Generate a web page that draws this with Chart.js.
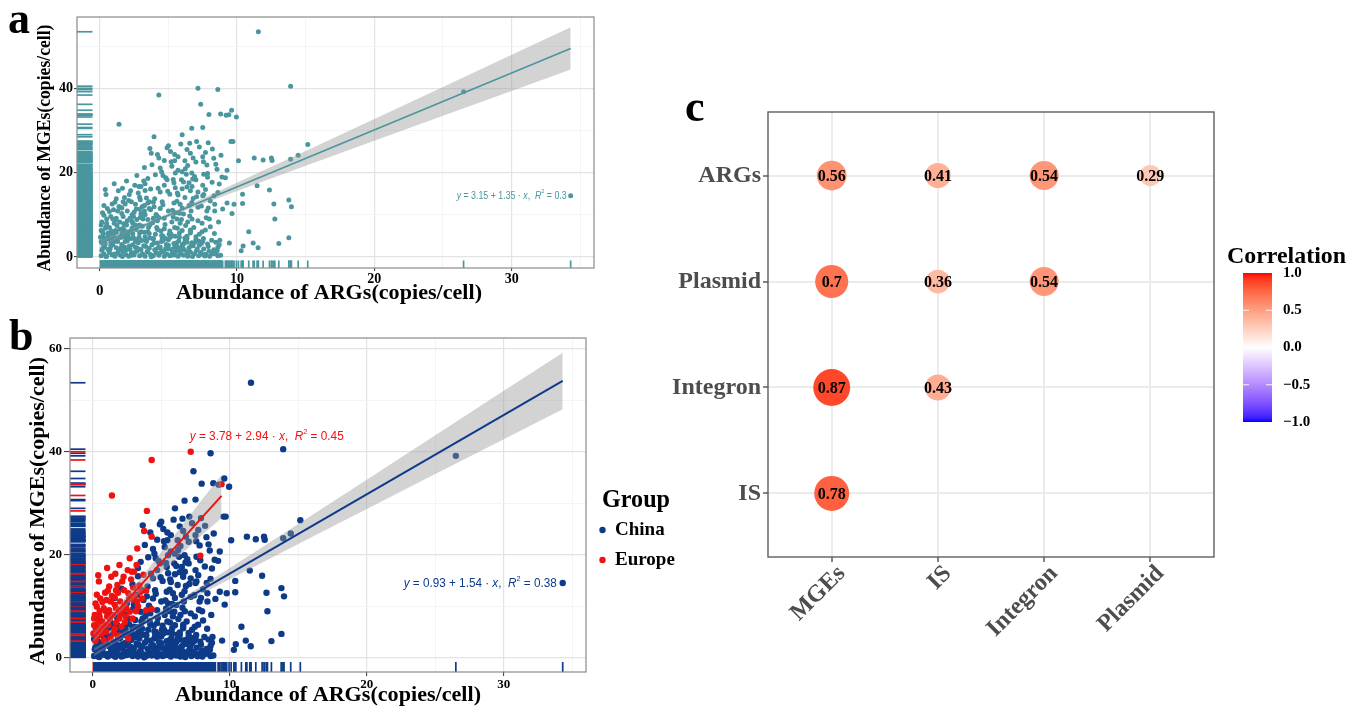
<!DOCTYPE html>
<html><head><meta charset="utf-8">
<script src="https://cdn.jsdelivr.net/npm/chart.js@4.4.1/dist/chart.umd.min.js"></script>
<style>
body{margin:0;background:#fff;width:1361px;height:709px;position:relative;overflow:hidden}
canvas{position:absolute}
</style></head><body>
<canvas id="ca" width="640" height="310" style="left:0;top:0"></canvas>
<canvas id="cb" width="700" height="399" style="left:0;top:310px"></canvas>
<canvas id="cc" width="721" height="649" style="left:640px;top:60px"></canvas>
<script>
// ---------------- DATA ----------------
// [ARGs abundance, MGEs abundance] (copies/cell)
const chinaPoints = [
[11.55,53.4],[26.5,39.2],[13.9,40.5],[8.6,39.7],[34.3,14.5],[15.15,26.7],[14.45,24.1],[13.9,23.2],[7.35,36.2],[7.5,30.7],[6.7,30.5],[6.0,29.0],[7.95,33.8],[8.8,33.9],[9.6,34.8],[9.95,33.2],[9.2,33.6],[9.55,27.4],[9.7,27.4],[7.05,27.4],[6.35,25.5],[5.45,24.3],[8.83,24.1],[10.1,22.8],[11.25,23.5],[11.9,23.0],[12.5,23.5],[12.55,22.9],[4.9,25.9],[3.65,25.7],[4.05,19.5],[5.2,22.6],[5.45,22.8],[5.25,21.5],[4.8,18.8],[5.5,19.9],
[13.77,13.5],[13.96,11.9],[12.68,12.6],[12.36,15.9],[11.46,16.9],[10.4,14.9],[10.4,12.7],[9.78,12.5],[9.27,12.8],[9.63,10.3],[10.85,6.0],[12.75,9.0],[13.77,4.6],[13.04,3.2],[11.53,2.2],[11.17,3.3],[10.44,2.6],[10.3,1.5],[9.44,3.3],[8.74,4.0],[7.69,6.4],[7.25,5.4],[7.2,3.8],[8.9,19.0],[9.15,18.8],[9.27,20.6],[8.54,20.8],[7.57,19.6],[8.18,17.7],[6.77,18.5],[6.72,16.7],[7.57,14.8],[8.32,14.5],[8.37,12.5],[7.8,10.9],[8.37,10.9],[7.45,8.0],[6.72,9.0],[7.98,9.0],[6.6,6.4],[5.62,9.0],[6.35,3.5],[5.74,2.2],[6.35,1.2],[7.57,1.9],[7.69,0.6],[8.42,0.9],[5.5,16.4],[5.62,13.2],[6.23,20.9],
[4.7,22.9],[5.7,23.8],[6.2,22.8],[6.8,23.5],[7.5,23.8],[7.0,22.5],[7.7,24.8],[7.8,21.8],[4.5,20.2],[6.0,20.2],[6.3,19.6],[6.7,19.9],[4.9,18.3],[5.4,17.6],[5.95,18.3],[6.5,17.6],[7.0,18.3],[7.5,17.0],[4.7,17.0],[6.0,16.2],[6.6,15.7],[7.15,15.4],[4.4,15.4],[5.1,14.9],[5.7,14.7],[6.2,14.1],[6.8,13.9],[7.5,14.5],[4.0,13.8],[4.55,13.1],[5.4,12.8],[5.85,12.5],[6.5,12.2],[7.15,11.8],[3.25,12.2],[3.7,11.2],[4.4,11.5],[5.0,10.9],[5.5,10.5],[6.1,10.2],[6.65,10.9],[3.0,9.6],[3.5,8.9],[4.2,8.6],[4.7,9.2],[5.25,8.3],[5.85,8.0],[6.4,8.3],[2.6,7.6],[3.1,7.3],[3.65,7.6],[4.15,7.0],[4.7,6.7],[5.45,7.0],[6.0,6.3],[6.6,5.7],[2.3,6.3],[2.9,5.7],[3.5,6.0],[4.05,5.4],[4.6,5.0],[5.2,5.4],[5.8,4.7],[6.35,4.4],[7.0,4.1],[1.8,5.0],[2.3,4.4],[2.86,4.7],[3.4,4.1],[3.9,4.4],[4.5,3.7],[5.0,4.1],[5.6,3.4],[6.1,3.1],[6.7,3.4],[7.5,3.7],
[0.1,0.3],[0.3,0.8],[0.5,0.2],[0.7,1.1],[0.9,0.5],[1.1,0.2],[1.3,0.9],[1.5,0.4],[1.7,1.3],[1.9,0.6],[2.1,0.2],[2.3,1.0],[2.5,0.5],[2.7,1.4],[2.9,0.3],[3.1,0.8],[3.3,0.2],[3.5,1.2],[3.7,0.6],[3.9,0.3],[4.1,1.0],[4.3,0.4],[4.5,1.5],[4.7,0.2],[4.9,0.7],[5.1,0.3],[5.3,1.1],[5.5,0.5],[5.7,0.2],[5.9,0.9],[6.1,0.4],[6.4,0.2],[6.6,1.2],[6.9,0.8],[7.2,0.3],[7.5,0.6],[7.7,0.6],[8.0,0.2],[8.2,1.0],[8.4,0.9],[8.6,0.3],
[0.2,2.0],[0.4,3.1],[0.6,1.8],[0.8,2.6],[1.0,3.5],[1.2,2.2],[1.4,1.7],[1.6,3.0],[1.8,2.4],[2.0,3.8],[2.2,1.9],[2.4,2.9],[2.6,2.3],[2.8,3.4],[3.0,1.8],[3.2,2.7],[3.4,3.7],[3.6,2.1],[3.8,2.9],[4.0,1.7],[4.2,3.3],[4.4,2.4],[4.6,3.9],[4.8,2.0],[5.0,2.8],[5.2,1.8],[5.4,3.2],[5.6,2.5],[5.8,1.6],[6.0,2.9],[6.2,3.6],[6.5,2.2],[6.8,2.7],[7.1,1.9],[7.4,3.2],[7.9,2.5],[8.3,1.7],[8.6,2.3],
[0.3,4.5],[0.6,5.2],[0.9,4.2],[1.2,5.8],[1.5,4.7],[1.8,6.3],[2.1,4.4],[2.4,5.5],[2.7,4.1],[3.0,6.0],[3.3,4.8],[3.6,5.6],[3.9,4.3],[4.2,6.5],[4.5,5.1],[4.8,4.4],[5.1,6.2],[5.5,4.9],[5.8,5.7],[6.2,4.5],[6.6,6.1],[7.0,4.8],
[0.15,1.6],[0.45,0.1],[0.75,1.9],[1.05,0.7],[1.35,1.4],[1.65,0.15],[1.95,1.75],[2.25,0.35],[2.55,1.15],[2.85,1.85],[3.15,0.55],[3.45,1.3],[3.75,0.05],[4.05,1.65],[4.35,0.85],[4.65,1.25],[4.95,1.95],[5.25,0.45],[5.55,1.45],[5.85,0.65],[6.15,1.7],[6.45,0.95],[6.75,0.1],[7.05,1.55],[7.35,1.05],[7.65,0.25],[7.95,1.35],[8.25,0.75],[8.55,1.5],[8.8,0.4],
[0.1,3.6],[0.35,2.4],[0.65,4.4],[0.95,2.9],[1.25,4.1],[1.55,2.2],[1.85,3.7],[2.15,2.6],[2.45,4.6],[2.75,2.1],[3.05,3.9],[3.35,2.5],[3.65,4.5],[3.95,3.3],[4.25,2.2],[4.55,4.2],[4.85,3.0],[5.15,4.7],[5.45,2.3],[5.75,3.8],[6.05,2.1],[6.35,4.9],[6.65,2.6],[6.95,3.5],[7.25,2.8],[7.55,4.4],[7.85,3.1],[8.15,4.0],[8.45,3.5],[8.7,2.9],
[0.2,6.0],[0.5,7.4],[0.85,5.6],[1.15,8.8],[1.45,6.6],[1.75,7.9],[2.05,5.3],[2.35,8.4],[2.65,6.5],[2.95,9.4],[3.25,5.9],[3.55,7.0],[3.85,8.1],[4.15,9.8],[4.45,6.2],[4.75,7.7],[5.05,5.4],[5.35,9.5],[5.65,6.8],[5.95,8.9],[6.25,7.5],[6.55,9.7],[6.85,7.0],[7.15,8.6],[7.45,6.0],[7.75,9.3],[8.05,7.2],[8.35,5.6],[8.65,8.3],
[1.6,11.6],[2.1,13.4],[2.5,10.6],[2.9,14.2],[3.3,15.8],[3.6,13.1],[3.95,11.9],[4.25,16.3],[4.6,12.4],[4.95,15.6],[5.3,11.1],[5.65,15.2],[6.0,11.6],[6.35,16.6],[6.7,12.9],[7.05,14.3],[7.4,12.1],[7.7,16.0],[8.05,13.3],[8.6,15.3],[8.95,11.4],[3.0,10.3],[4.1,10.1],[5.8,10.4],[7.9,11.6],
[3.3,17.4],[3.8,21.9],[4.2,24.3],[4.6,19.3],[5.0,26.4],[5.35,18.4],[5.7,20.6],[5.9,26.8],[6.4,21.7],[6.6,24.6],[6.9,19.1],[7.25,26.1],[7.55,22.6],[7.85,18.9],[8.2,25.6],[8.45,22.0],[8.7,17.3],[6.1,17.8],[4.4,21.1],[3.5,18.6],[5.15,25.0],[6.55,27.0],[7.9,27.1],[8.3,23.4]
];
const europePoints = [
[7.15,40.0],[4.3,38.4],[1.4,31.5],[3.95,28.5],[3.75,24.6],[4.3,23.5],[3.25,21.2],[7.85,19.8],[1.95,18.0],[9.4,33.7],[0.45,14.8],[1.35,15.7],[2.25,15.7],[2.55,17.0],[2.85,16.7],[3.0,16.7],[2.8,15.2],[1.2,13.8],[1.8,14.1],[1.7,13.1],[2.3,13.1],[2.6,12.5],[3.9,13.0],[0.55,11.5],[1.0,11.2],[1.3,10.9],[1.55,11.7],[2.0,10.9],[2.9,11.3],[3.25,10.9],[3.6,11.5],[0.3,9.9],[0.8,9.6],[1.2,9.2],[1.7,9.6],[2.2,9.2],[2.7,8.9],[3.9,9.2],[0.15,8.3],[0.5,8.0],[1.05,8.0],[1.45,8.3],[1.95,7.6],[2.4,8.0],[0.7,7.0],[0.1,6.3],[1.15,6.3],[1.7,6.8],[2.1,6.0],[0.6,5.7],[0.05,4.7],[1.0,5.0],[1.55,4.7],[0.35,4.1],[0.8,3.4],[1.3,3.7],[2.6,3.7],[4.3,9.4],[0.2,10.5],[0.9,12.6],[0.4,6.8],[1.6,10.3],[2.35,10.0],[3.4,14.0],[0.25,5.5],[3.1,12.0],
[0.1,7.6],[0.3,12.2],[0.5,9.0],[0.7,10.8],[0.85,6.2],[1.1,13.0],[1.25,7.5],[1.4,12.0],[1.6,5.6],[1.85,12.6],[2.0,8.6],[2.15,14.8],[2.45,9.6],[2.65,11.4],[2.95,13.6],[3.15,9.0],[3.5,12.8],[3.7,16.1],[0.2,3.2],[0.65,4.6],[1.9,4.3],[2.35,6.9],[2.9,7.6],[3.3,10.0],[0.4,16.0],[1.05,17.4],[1.65,16.3],[2.7,19.3],[3.2,18.0],[0.95,9.0]
];
// regression fits (line end points) and 95% confidence bands
const allFitX = [0.05, 34.3];
const allFitY = [3.22, 49.45];
const allBandX = [0.05, 2, 4, 6, 8, 10, 15, 20, 25, 30, 34.3];
const allBandLo = [2.47, 5.35, 8.1, 10.75, 13.25, 15.65, 21.65, 27.55, 33.5, 39.35, 44.45];
const allBandHi = [3.97, 6.35, 9.0, 11.75, 14.65, 17.65, 25.15, 32.75, 40.3, 47.95, 54.45];
const chinaFitX = [0.1, 34.3];
const chinaFitY = [1.08, 53.75];
const chinaBandX = [0.1, 2, 4, 6, 8, 10, 15, 20, 25, 30, 34.3];
const chinaBandLo = [0.28, 3.46, 6.59, 9.62, 12.5, 15.23, 22.08, 28.88, 35.68, 42.43, 48.25];
const chinaBandHi = [1.88, 4.56, 7.59, 10.72, 14.0, 17.43, 25.98, 34.58, 43.18, 51.83, 59.25];
const europeFitX = [0.05, 9.4];
const europeFitY = [3.93, 31.42];
const europeBandX = [0.05, 1, 2, 3, 4, 5, 6, 7, 8, 9.4];
const europeBandLo = [2.98, 5.97, 8.81, 11.4, 13.94, 16.43, 18.92, 21.41, 23.85, 27.1];
const europeBandHi = [4.88, 7.47, 10.51, 13.8, 17.14, 20.53, 23.92, 27.31, 30.75, 35.5];
const eqAll = [{t:'y',i:1},{t:' = 3.15 + 1.35 · '},{t:'x',i:1},{t:',  '},{t:'R',i:1},{t:'2',s:1},{t:' = 0.3'}];
const eqChina = [{t:'y',i:1},{t:' = 0.93 + 1.54 · '},{t:'x',i:1},{t:',  '},{t:'R',i:1},{t:'2',s:1},{t:' = 0.38'}];
const eqEurope = [{t:'y',i:1},{t:' = 3.78 + 2.94 · '},{t:'x',i:1},{t:',  '},{t:'R',i:1},{t:'2',s:1},{t:' = 0.45'}];
const groupNames = ['China', 'Europe'];
// correlation matrix (panel c)
const corRowNames = ['ARGs', 'Plasmid', 'Integron', 'IS'];
const corColNames = ['MGEs', 'IS', 'Integron', 'Plasmid'];
const corARGs = [0.56, 0.41, 0.54, 0.29];
const corPlasmid = [0.7, 0.36, 0.54];
const corIntegron = [0.87, 0.43];
const corIS = [0.78];
const colorbarTicks = [1.0, 0.5, 0.0, -0.5, -1.0];

// ---------------- STYLE / HELPERS ----------------
const SERIF = "'Liberation Serif','Times New Roman',serif";
const SANS = "'Liberation Sans',Arial,sans-serif";
const TEAL = '#4A969F', CHINA = '#0D3B89', EUROPE = '#F01111';
const BAND = 'rgba(150,150,150,0.42)';

function drawText(ctx, s, x, y, o) {
  ctx.save();
  ctx.font = o.font; ctx.fillStyle = o.color || '#000';
  ctx.textBaseline = o.baseline || 'alphabetic';
  ctx.textAlign = o.align || 'left';
  ctx.translate(x, y);
  if (o.rot) ctx.rotate(o.rot);
  const m = ctx.measureText(s).width;
  const sx = o.width ? o.width / m : (o.sx || 1);
  ctx.scale(sx, 1);
  ctx.fillText(s, 0, 0);
  ctx.restore();
}
function drawEq(ctx, segs, x, y, size, color, width, align) {
  ctx.save();
  const parts = segs.map(g => {
    const f = (g.i ? 'italic ' : '') + (g.s ? size * 0.62 : size) + 'px ' + SANS;
    ctx.font = f; return {t: g.t, f, w: ctx.measureText(g.t).width, s: g.s};
  });
  const total = parts.reduce((a, p) => a + p.w, 0);
  ctx.translate(x, y); ctx.scale(width / total, 1);
  let cx = align === 'right' ? -total : 0;
  ctx.fillStyle = color; ctx.textBaseline = 'middle'; ctx.textAlign = 'left';
  for (const p of parts) { ctx.font = p.f; ctx.fillText(p.t, cx, p.s ? -size * 0.42 : 0); cx += p.w; }
  ctx.restore();
}
const pts = arr => arr.map(p => ({x: p[0], y: p[1]}));
const xy = (xs, ys) => xs.map((x, i) => ({x, y: ys[i]}));

function numScale(o) {
  const isMajor = c => c.tick && Math.abs(c.tick.value % o.major) < 1e-9;
  return {
    type: 'linear', min: o.min, max: o.max,
    afterFit: o.fit,
    ticks: {stepSize: o.step, includeBounds: false, autoSkip: false, maxRotation: 0, minRotation: 0,
      padding: o.pad, color: '#000', font: {family: SERIF, weight: 'bold', size: o.fs},
      callback: v => (Math.abs(v % o.major) < 1e-9 && !(o.hideZero && v === 0)) ? String(v) : ''},
    grid: {drawTicks: true, tickLength: o.tl, tickWidth: 1,
      color: c => isMajor(c) ? '#E3E3E3' : '#F1F1F1',
      lineWidth: c => isMajor(c) ? 1.2 : 0.8,
      tickColor: c => isMajor(c) ? '#333' : 'rgba(0,0,0,0)'},
    border: {display: false}
  };
}
// rug: xSeq / ySeq are ordered lists of [point, colour] drawn in sequence
function rugPlugin(xSeq, ySeq, lw) {
  return {id: 'rug', afterDatasetsDraw(chart) {
    const {ctx, chartArea: a, scales: {x, y}} = chart;
    const hx = (a.bottom - a.top) * 0.03, wy = (a.right - a.left) * 0.03;
    ctx.save(); ctx.lineWidth = lw;
    xSeq.forEach(([p, c]) => { const px = x.getPixelForValue(p[0]); ctx.strokeStyle = c; ctx.beginPath(); ctx.moveTo(px, a.bottom); ctx.lineTo(px, a.bottom - hx); ctx.stroke(); });
    ySeq.forEach(([p, c]) => { const py = y.getPixelForValue(p[1]); ctx.strokeStyle = c; ctx.beginPath(); ctx.moveTo(a.left, py); ctx.lineTo(a.left + wy, py); ctx.stroke(); });
    ctx.strokeStyle = '#8A8A8A'; ctx.lineWidth = 1.2;
    ctx.strokeRect(a.left, a.top, a.right - a.left, a.bottom - a.top);
    ctx.restore();
  }};
}
const lineDs = (data, color, w, order) => ({data, showLine: true, borderColor: color, borderWidth: w, pointRadius: 0, tension: 0, fill: false, order});
const bandDs = (data, fill, order) => ({data, showLine: true, borderColor: 'rgba(0,0,0,0)', borderWidth: 1, pointRadius: 0, tension: 0, fill, backgroundColor: BAND, order});
const ptDs = (data, color, r, order) => ({data, showLine: false, pointRadius: r, pointBackgroundColor: color, pointBorderWidth: 0, backgroundColor: color, borderColor: color, order});
const baseOpts = (pad, scales) => ({responsive: false, animation: false, events: [],
  layout: {padding: pad}, plugins: {legend: {display: false}, tooltip: {enabled: false}}, scales});

// ---------------- PANEL A ----------------
const allPoints = chinaPoints.concat(europePoints);
(function () {
  const A = {l: 77, t: 17, r: 594, b: 268, W: 640, H: 310};
  const seq = allPoints.map(p => [p, TEAL]);
  new Chart(document.getElementById('ca'), {
    type: 'scatter',
    data: {datasets: [
      ptDs(pts(allPoints), TEAL, 2.5, 3),
      bandDs(xy(allBandX, allBandLo), false, 2),
      bandDs(xy(allBandX, allBandHi), 1, 2),
      lineDs(xy(allFitX, allFitY), TEAL, 1.6, 0)
    ]},
    options: baseOpts({left: 0, top: A.t, right: A.W - A.r, bottom: 0}, {
      x: numScale({min: -1.66, max: 36, step: 5, major: 10, fs: 14, pad: 0, tl: 3, hideZero: true, fit: s => { s.height = A.H - A.b; }}),
      y: numScale({min: -2.6, max: 56.9, step: 10, major: 20, fs: 14, pad: 1, tl: 3, fit: s => { s.width = A.l; }})
    }),
    plugins: [rugPlugin(seq, seq, 1.7), {
      id: 'decoA',
      afterDatasetsDraw(chart) {
        const {ctx, scales: {x, y}} = chart;
        drawEq(ctx, eqAll, x.getPixelForValue(34.3) - 4, y.getPixelForValue(14.5), 10, TEAL, 110, 'right');
      },
      afterDraw(chart) {
        const {ctx, scales: {x}} = chart;
        drawText(ctx, '0', x.getPixelForValue(0), 291, {font: `bold 15px ${SERIF}`, align: 'center', baseline: 'middle'});
        drawText(ctx, 'a', 8, 33, {font: `bold 44px ${SERIF}`});
        drawText(ctx, 'Abundance of ARGs(copies/cell)', 329, 299, {font: `bold 22px ${SERIF}`, align: 'center', width: 306});
        drawText(ctx, 'Abundance of MGEs(copies/cell)', 45, 148, {font: `bold 19px ${SERIF}`, align: 'center', baseline: 'middle', rot: -Math.PI / 2, width: 247});
      }
    }]
  });
})();

// ---------------- PANEL B ----------------
(function () {
  const B = {l: 70, t: 28, r: 586, b: 362, W: 700, H: 399};
  // x rug: Europe then China; y rug: rows interleaved (about one Europe row per four China rows)
  const xSeq = europePoints.map(p => [p, EUROPE]).concat(chinaPoints.map(p => [p, CHINA]));
  const ySeq = [];
  let e = 0;
  chinaPoints.forEach((p, i) => { ySeq.push([p, CHINA]); if (i % 4 === 3 && e < europePoints.length) ySeq.push([europePoints[e++], EUROPE]); });
  while (e < europePoints.length) ySeq.push([europePoints[e++], EUROPE]);
  new Chart(document.getElementById('cb'), {
    type: 'scatter',
    data: {datasets: [
      ptDs(pts(chinaPoints), CHINA, 3.2, 5),
      ptDs(pts(europePoints), EUROPE, 3.2, 4),
      bandDs(xy(chinaBandX, chinaBandLo), false, 3),
      bandDs(xy(chinaBandX, chinaBandHi), 2, 3),
      bandDs(xy(europeBandX, europeBandLo), false, 2),
      bandDs(xy(europeBandX, europeBandHi), 4, 2),
      lineDs(xy(chinaFitX, chinaFitY), CHINA, 2, 1),
      lineDs(xy(europeFitX, europeFitY), EUROPE, 2, 0)
    ]},
    options: baseOpts({left: 0, top: B.t, right: B.W - B.r, bottom: 0}, {
      x: numScale({min: -1.66, max: 36, step: 5, major: 10, fs: 13, pad: 1, tl: 4, fit: s => { s.height = B.H - B.b; }}),
      y: numScale({min: -2.8, max: 62.1, step: 10, major: 20, fs: 13, pad: 2, tl: 6, fit: s => { s.width = B.l; }})
    }),
    plugins: [rugPlugin(xSeq, ySeq, 1.7), {
      id: 'decoB',
      afterDatasetsDraw(chart) {
        const {ctx, scales: {x, y}} = chart;
        drawEq(ctx, eqChina, x.getPixelForValue(34.3) - 6, y.getPixelForValue(14.35), 12.5, CHINA, 153, 'right');
        drawEq(ctx, eqEurope, x.getPixelForValue(7.08), y.getPixelForValue(42.9), 12.5, EUROPE, 154, 'left');
      },
      afterDraw(chart) {
        const ctx = chart.ctx;
        drawText(ctx, 'b', 9, 40, {font: `bold 44px ${SERIF}`});
        drawText(ctx, 'Abundance of ARGs(copies/cell)', 328, 391, {font: `bold 22px ${SERIF}`, align: 'center', width: 306});
        drawText(ctx, 'Abundance of MGEs(copies/cell)', 38, 201, {font: `bold 22px ${SERIF}`, align: 'center', baseline: 'middle', rot: -Math.PI / 2, width: 308});
        drawText(ctx, 'Group', 602, 197, {font: `bold 25px ${SERIF}`, width: 68});
        const cols = [CHINA, EUROPE];
        groupNames.forEach((g, i) => {
          ctx.fillStyle = cols[i]; ctx.beginPath(); ctx.arc(602.5, 220 + i * 30, 3.2, 0, Math.PI * 2); ctx.fill();
          drawText(ctx, g, 615, 225 + i * 30, {font: `bold 19px ${SERIF}`});
        });
      }
    }]
  });
})();

// ---------------- PANEL C ----------------
function s2l(c) { c /= 255; return c <= 0.04045 ? c / 12.92 : Math.pow((c + 0.055) / 1.055, 2.4); }
function l2s(c) { const v = c <= 0.0031308 ? 12.92 * c : 1.055 * Math.pow(c, 1 / 2.4) - 0.055; return Math.round(Math.min(1, Math.max(0, v)) * 255); }
function toLab(hex) {
  const r = s2l(parseInt(hex.slice(1, 3), 16)), g = s2l(parseInt(hex.slice(3, 5), 16)), b = s2l(parseInt(hex.slice(5, 7), 16));
  const X = (0.4124564 * r + 0.3575761 * g + 0.1804375 * b) / 0.95047, Y = 0.2126729 * r + 0.7151522 * g + 0.0721750 * b, Z = (0.0193339 * r + 0.1191920 * g + 0.9503041 * b) / 1.08883;
  const f = t => t > 0.008856 ? Math.cbrt(t) : 7.787 * t + 16 / 116;
  const fx = f(X), fy = f(Y), fz = f(Z);
  return [116 * fy - 16, 500 * (fx - fy), 200 * (fy - fz)];
}
function fromLab(L) {
  const fy = (L[0] + 16) / 116, fx = fy + L[1] / 500, fz = fy - L[2] / 200;
  const fi = t => { const t3 = t * t * t; return t3 > 0.008856 ? t3 : (t - 16 / 116) / 7.787; };
  const X = fi(fx) * 0.95047, Y = fi(fy), Z = fi(fz) * 1.08883;
  const r = 3.2404542 * X - 1.5371385 * Y - 0.4985314 * Z, g = -0.9692660 * X + 1.8760108 * Y + 0.0415560 * Z, b = 0.0556434 * X - 0.2040259 * Y + 1.0572252 * Z;
  return `rgb(${l2s(r)},${l2s(g)},${l2s(b)})`;
}
const LAB_W = toLab('#FFFFFF'), LAB_R = toLab('#FF0000'), LAB_B = toLab('#0000FF');
function corColor(v) { const t = Math.min(1, Math.abs(v)); const E = v >= 0 ? LAB_R : LAB_B; return fromLab(LAB_W.map((w, i) => w + (E[i] - w) * t)); }

(function () {
  const C = {l: 128, t: 52, r: 574, b: 497, W: 721, H: 649};
  const corRows = [corARGs, corPlasmid, corIntegron, corIS];
  const nR = corRowNames.length;
  const cData = [];
  corRows.forEach((row, i) => row.forEach((v, j) => cData.push({x: j, y: nR - 1 - i, r: 19.8 * Math.sqrt(Math.abs(v)), v})));
  const catScale = (fit, labels) => ({
    type: 'linear', min: -0.6, max: 3.6, afterFit: fit,
    ticks: {stepSize: 1, includeBounds: false, autoSkip: false, minRotation: 0, maxRotation: 0, padding: 2,
      color: '#4D4D4D', font: {family: SERIF, weight: 'bold', size: 24}, callback: v => labels(v)},
    grid: {color: '#EBEBEB', lineWidth: 2, drawTicks: true, tickLength: 5, tickColor: '#333', tickWidth: 1.2},
    border: {display: false}
  });
  new Chart(document.getElementById('cc'), {
    type: 'bubble',
    data: {datasets: [{data: cData, backgroundColor: c => c.raw ? corColor(c.raw.v) : '#fff', borderWidth: 0, hoverRadius: 0}]},
    options: baseOpts({left: 0, top: C.t, right: C.W - C.r, bottom: 0}, {
      x: catScale(s => { s.height = C.H - C.b; }, v => ''),
      y: catScale(s => { s.width = C.l; }, v => corRowNames[nR - 1 - v] || '')
    }),
    plugins: [{
      id: 'decoC',
      afterDatasetsDraw(chart) {
        const {ctx, chartArea: a} = chart;
        chart.getDatasetMeta(0).data.forEach((el, i) => {
          drawText(ctx, String(cData[i].v), el.x, el.y + 1, {font: `bold 16px ${SERIF}`, align: 'center', baseline: 'middle'});
        });
        ctx.save(); ctx.strokeStyle = '#5E5E5E'; ctx.lineWidth = 1.4;
        ctx.strokeRect(a.left, a.top, a.right - a.left, a.bottom - a.top); ctx.restore();
      },
      afterDraw(chart) {
        const {ctx, chartArea: a, scales: {x}} = chart;
        corColNames.forEach((n, j) => drawText(ctx, n, x.getPixelForValue(j) + 10, a.bottom + 13,
          {font: `bold 24px ${SERIF}`, color: '#4D4D4D', align: 'right', baseline: 'middle', rot: -Math.PI / 4}));
        drawText(ctx, 'c', 45, 61, {font: `bold 44px ${SERIF}`});
        const bx = 603, bw = 29, bt = 213, bb = 362;
        const gr = ctx.createLinearGradient(0, bt, 0, bb);
        for (let k = 0; k <= 40; k++) gr.addColorStop(k / 40, corColor(1 - 2 * k / 40));
        ctx.fillStyle = gr; ctx.fillRect(bx, bt, bw, bb - bt);
        const yv = v => bt + (1 - v) / 2 * (bb - bt);
        ctx.save(); ctx.strokeStyle = 'rgba(255,255,255,0.9)'; ctx.lineWidth = 1;
        colorbarTicks.forEach(v => { if (Math.abs(v) < 1) { const y = yv(v);
          ctx.beginPath(); ctx.moveTo(bx, y); ctx.lineTo(bx + 6, y); ctx.moveTo(bx + bw - 6, y); ctx.lineTo(bx + bw, y); ctx.stroke(); } });
        ctx.restore();
        colorbarTicks.forEach(v => drawText(ctx, (v < 0 ? '\u2212' : '') + Math.abs(v).toFixed(1), 643, yv(v), {font: `bold 15px ${SERIF}`, baseline: 'middle'}));
        drawText(ctx, 'Correlation', 587, 203, {font: `bold 24px ${SERIF}`, width: 119});
      }
    }]
  });
})();
</script>
</body></html>
